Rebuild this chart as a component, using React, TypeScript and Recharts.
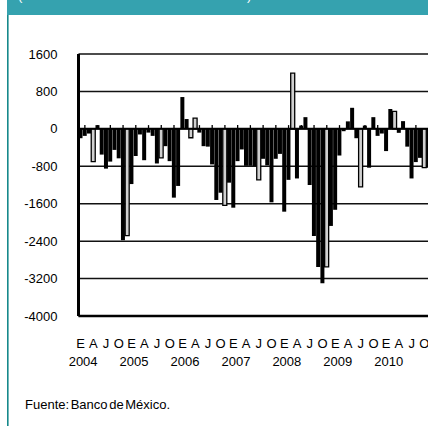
import React from 'react';
import { BarChart, Bar, XAxis, YAxis, CartesianGrid, ReferenceLine, Cell } from 'recharts';

const years = ['2004', '2005', '2006', '2007', '2008', '2009', '2010'];
const quarterLetters = ['E', 'A', 'J', 'O'];
const yTicks = [-4000, -3200, -2400, -1600, -800, 0, 800, 1600];

// Monthly values, Jan 2004 .. Dec 2010
const values = [
  -200, -150, -100, -700, 80, -550, -850, -700, -450, -630, -2380, -2280,
  -1180, -580, -120, -670, -80, -150, -740, -620, -370, -690, -1470, -1220,
  680, 210, -190, 230, -80, -370, -380, -760, -1520, -1365, -1635, -1150,
  -1685, -690, -440, -790, -790, -800, -1090, -640, -780, -1570, -640, -535,
  -1770, -1090, 1190, -1060, 70, 250, -1200, -2290, -2950, -3300, -2950, -2075,
  -1730, -570, -50, 160, 450, -200, -1240, 70, -830, 250, -150, -100,
  -475, 425, 375, -85, 165, -380, -1060, -710, -620, -830, -830, -800,
];
// months drawn as light (outlined) bars
const hollowMonths = [3, 11, 19, 26, 27, 34, 42, 50, 58, 66, 74, 81];

const data = values.map((v, i) => ({
  key: `${years[Math.floor(i / 12)]}-${(i % 12) + 1}`,
  v,
  hollow: hollowMonths.includes(i),
}));

const FONT = '"Liberation Sans", Arial, sans-serif';

const MonthTick = (props: any) => {
  const { x, y, index } = props;
  if (index % 3 !== 0) return <g />;
  const letter = quarterLetters[(index / 3) % 4];
  return (
    <g>
      <text x={x} y={y + 32} textAnchor="middle" fontSize={13} fontFamily={FONT} fill="#000">
        {letter}
      </text>
      {index % 12 === 0 && (
        <text x={x + 2.5} y={y + 50} textAnchor="middle" fontSize={13} fontFamily={FONT} fill="#000">
          {years[index / 12]}
        </text>
      )}
    </g>
  );
};

export default function App() {
  const tickKeys = data.filter((_, i) => i % 3 === 1).map((d) => d.key);
  return (
    <div style={{ position: 'absolute', left: 7, top: 0, width: 421, height: 426, overflow: 'hidden', background: '#fff' }}>
      <svg width={421} height={426} style={{ position: 'absolute', left: 0, top: 0 }}>
        <rect x={0} y={0} width={421} height={15} fill="#35A2AF" />
        <text x={11} y={0.3} fill="#fff" fontSize={13} fontFamily={FONT}>
          (Millones de dólares de Estados Unidos)
        </text>
        <rect x={0} y={15} width={1.6} height={411} fill="#17898B" />
        <text x={18} y={409} fill="#000" fontSize={13} fontFamily={FONT} wordSpacing={-2}>
          Fuente: Banco de México.
        </text>
      </svg>
      <div style={{ position: 'absolute', left: 0, top: 0 }}>
        <BarChart
          width={428}
          height={376}
          data={data}
          margin={{ top: 54, right: 0, bottom: 0, left: 0 }}
          barCategoryGap={0}
        >
          <CartesianGrid horizontal vertical={false} stroke="#111" strokeWidth={1.5} />
          <YAxis
            type="number"
            domain={[-4000, 1600]}
            ticks={yTicks}
            width={71.5}
            tickLine={false}
            tickSize={0}
            tickMargin={21}
            axisLine={{ stroke: '#000', strokeWidth: 3 }}
            tick={{ fontSize: 13, fill: '#000', fontFamily: FONT }}
            interval={0}
          />
          <XAxis
            dataKey="key"
            height={60}
            interval={0}
            tickLine={false}
            tickSize={0}
            tickMargin={0}
            axisLine={{ stroke: '#000', strokeWidth: 2.5 }}
            tick={<MonthTick />}
          />
          <Bar dataKey="v" isAnimationActive={false}>
            {data.map((d, i) => (
              <Cell
                key={i}
                fill={d.hollow ? '#D0D0D0' : '#000'}
                stroke={d.hollow ? '#000' : 'none'}
                strokeWidth={d.hollow ? 1.3 : 0}
              />
            ))}
          </Bar>
          <ReferenceLine y={0} stroke="#000" strokeWidth={2} />
          {tickKeys.map((k) => (
            <ReferenceLine
              key={k}
              segment={[{ x: k, y: 0 }, { x: k, y: 80 }]}
              stroke="#000"
              strokeWidth={1.3}
            />
          ))}
        </BarChart>
      </div>
    </div>
  );
}
